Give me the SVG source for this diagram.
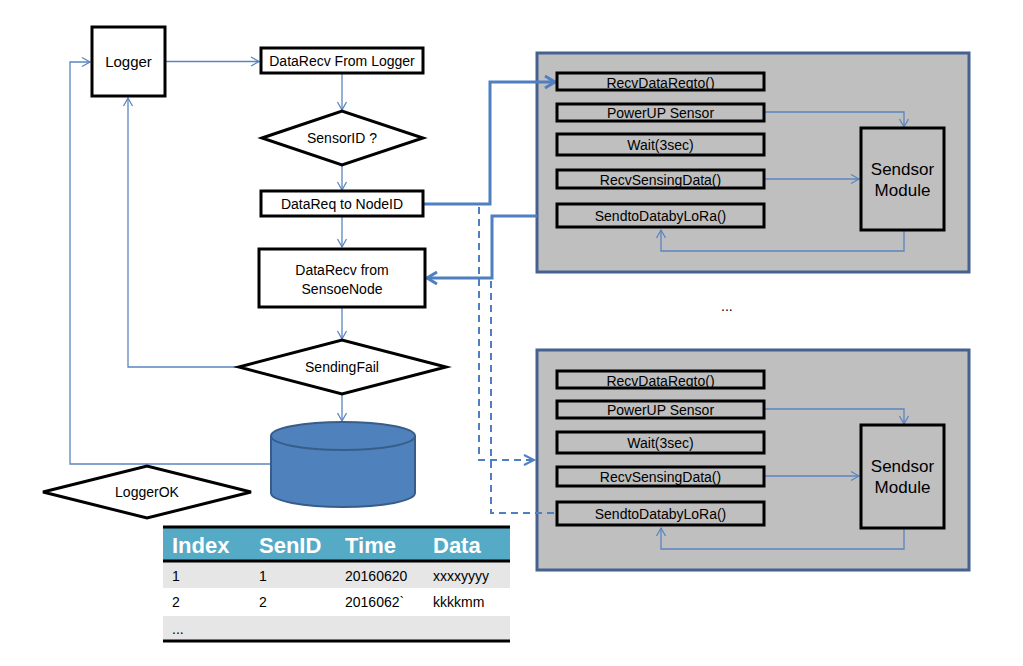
<svg xmlns="http://www.w3.org/2000/svg" width="1023" height="666" viewBox="0 0 1023 666">
<style>
.box{fill:#fff;stroke:#000;stroke-width:3}
.gbox{fill:#bfbfbf;stroke:#000;stroke-width:3}
.panel{fill:#bfbfbf;stroke:#44618f;stroke-width:3}
.t{font-family:"Liberation Sans",Arial,sans-serif;font-size:14px;fill:#000;text-anchor:middle}
.tl{font-family:"Liberation Sans",Arial,sans-serif;font-size:14px;fill:#000}
.th{font-family:"Liberation Sans",Arial,sans-serif;font-size:22px;font-weight:bold;fill:#fff}
.thin{fill:none;stroke:#5b85c0;stroke-width:1.3}
.thick{fill:none;stroke:#4f7fc0;stroke-width:3}
.dash{fill:none;stroke:#4f7fc0;stroke-width:2;stroke-dasharray:7,5}
</style>
<defs>
<marker id="a" markerUnits="userSpaceOnUse" markerWidth="12" markerHeight="12" refX="9" refY="5" orient="auto" viewBox="0 0 12 10">
<path d="M1,0.5 L9,5 L1,9.5" fill="none" stroke="#5b85c0" stroke-width="1.3"/>
</marker>
<marker id="b" markerUnits="userSpaceOnUse" markerWidth="16" markerHeight="16" refX="12" refY="7" orient="auto" viewBox="0 0 16 14">
<path d="M2,1 L12,7 L2,13" fill="none" stroke="#4f7fc0" stroke-width="3"/>
</marker>
<marker id="c" markerUnits="userSpaceOnUse" markerWidth="14" markerHeight="14" refX="11" refY="6" orient="auto" viewBox="0 0 14 12">
<path d="M1,1 L11,6 L1,11" fill="none" stroke="#4f7fc0" stroke-width="2"/>
</marker>
</defs>
<rect width="1023" height="666" fill="#fff"/>

<g id="panel1">
<rect class="panel" x="537" y="53" width="432" height="219"/>
</g>
<g id="panel2">
<rect class="panel" x="537" y="350" width="432" height="220"/>
</g>

<g id="connectors">
<path class="thin" d="M165,61.5 H259" marker-end="url(#a)"/>
<path class="thin" d="M342,73 V110" marker-end="url(#a)"/>
<path class="thin" d="M342,165 V190" marker-end="url(#a)"/>
<path class="thin" d="M342,216 V247" marker-end="url(#a)"/>
<path class="thin" d="M342,307 V339" marker-end="url(#a)"/>
<path class="thin" d="M342,394 V421" marker-end="url(#a)"/>
<path class="thin" d="M239,367 H128 V98" marker-end="url(#a)"/>
<path class="thin" d="M271,464 H70 V62 H90" marker-end="url(#a)"/>
<path class="thick" d="M423,204 H490 V82 H555" marker-end="url(#b)"/>
<path class="thick" d="M537,216 H492 V278 H427" marker-end="url(#b)"/>
<path class="dash" d="M479,207 V460 H534" marker-end="url(#c)"/>
<path class="dash" d="M491,281 V513 H557"/>
<path class="thin" d="M765,112 H904 V127" marker-end="url(#a)"/>
<path class="thin" d="M765,179 H859" marker-end="url(#a)"/>
<path class="thin" d="M904,230 V251 H661 V230" marker-end="url(#a)"/>
<path class="thin" d="M765,409 H904 V424" marker-end="url(#a)"/>
<path class="thin" d="M765,476 H859" marker-end="url(#a)"/>
<path class="thin" d="M904,528 V549 H661 V528" marker-end="url(#a)"/>
</g>

<g id="logger">
<rect class="box" x="92" y="27" width="73" height="69"/>
<text class="t" x="128.5" y="67" style="font-size:15px">Logger</text>
</g>
<g id="datarecv-logger">
<rect class="box" x="261" y="48" width="162" height="25"/>
<text class="t" x="342" y="66">DataRecv From Logger</text>
</g>
<g id="sensorid">
<polygon class="box" points="262,138 342,111 423,138 342,165"/>
<text class="t" x="342" y="143">SensorID ?</text>
</g>
<g id="datareq">
<rect class="box" x="261" y="191" width="162" height="25"/>
<text class="t" x="342" y="209">DataReq to NodeID</text>
</g>
<g id="datarecv-node">
<rect class="box" x="259" y="249" width="166" height="58"/>
<text class="t" x="342" y="275">DataRecv from</text>
<text class="t" x="342" y="293.5">SensoeNode</text>
</g>
<g id="sendingfail">
<polygon class="box" points="239,367 342,340 446,367 342,394"/>
<text class="t" x="342" y="372">SendingFail</text>
</g>
<g id="database">
<path d="M271,436 V493 A72,14 0 0 0 415,493 V436" fill="#4f81bd" stroke="#385d8a" stroke-width="2"/>
<ellipse cx="343" cy="436" rx="72" ry="14" fill="#4f81bd" stroke="#385d8a" stroke-width="2"/>
</g>
<g id="loggerok">
<polygon class="box" points="43,492 147,466 251,492 147,518"/>
<text class="t" x="147" y="497">LoggerOK</text>
</g>

<g id="table">
<rect x="163" y="527" width="347" height="34" fill="#55aac6"/>
<rect x="163" y="561" width="347" height="27" fill="#e6e6e6"/>
<rect x="163" y="588" width="347" height="28" fill="#fff"/>
<rect x="163" y="616" width="347" height="25" fill="#e6e6e6"/>
<line x1="163" y1="527" x2="510" y2="527" stroke="#000" stroke-width="3"/>
<line x1="163" y1="561" x2="510" y2="561" stroke="#000" stroke-width="3"/>
<line x1="163" y1="641" x2="510" y2="641" stroke="#000" stroke-width="3"/>
<text class="th" x="172" y="553">Index</text>
<text class="th" x="259" y="553">SenID</text>
<text class="th" x="345" y="553">Time</text>
<text class="th" x="433" y="553">Data</text>
<text class="tl" x="172" y="581">1</text>
<text class="tl" x="259" y="581">1</text>
<text class="tl" x="345" y="581">20160620</text>
<text class="tl" x="433" y="581">xxxxyyyy</text>
<text class="tl" x="172" y="607">2</text>
<text class="tl" x="259" y="607">2</text>
<text class="tl" x="345" y="607">2016062`</text>
<text class="tl" x="433" y="607">kkkkmm</text>
<text class="tl" x="172" y="634">...</text>
</g>

<g id="p1-recv">
<rect class="gbox" x="557" y="73" width="207" height="17"/>
<text class="t" x="660.5" y="88">RecvDataReqto()</text>
</g>
<g id="p1-power">
<rect class="gbox" x="557" y="104" width="207" height="17"/>
<text class="t" x="660.5" y="118">PowerUP Sensor</text>
</g>
<g id="p1-wait">
<rect class="gbox" x="557" y="134" width="207" height="21"/>
<text class="t" x="660.5" y="150">Wait(3sec)</text>
</g>
<g id="p1-sensing">
<rect class="gbox" x="557" y="170" width="207" height="18"/>
<text class="t" x="660.5" y="184.5">RecvSensingData()</text>
</g>
<g id="p1-send">
<rect class="gbox" x="557" y="204" width="207" height="23"/>
<text class="t" x="660.5" y="220.5">SendtoDatabyLoRa()</text>
</g>
<g id="p1-module">
<rect class="gbox" x="861" y="128" width="83" height="102"/>
<text class="t" x="902.5" y="175" style="font-size:17px">Sendsor</text>
<text class="t" x="902.5" y="196" style="font-size:17px">Module</text>
</g>

<g id="p2-recv">
<rect class="gbox" x="557" y="371" width="207" height="17"/>
<text class="t" x="660.5" y="386">RecvDataReqto()</text>
</g>
<g id="p2-power">
<rect class="gbox" x="557" y="401" width="207" height="17"/>
<text class="t" x="660.5" y="415">PowerUP Sensor</text>
</g>
<g id="p2-wait">
<rect class="gbox" x="557" y="432" width="207" height="21"/>
<text class="t" x="660.5" y="448">Wait(3sec)</text>
</g>
<g id="p2-sensing">
<rect class="gbox" x="557" y="467" width="207" height="19"/>
<text class="t" x="660.5" y="481.5">RecvSensingData()</text>
</g>
<g id="p2-send">
<rect class="gbox" x="557" y="502" width="207" height="23"/>
<text class="t" x="660.5" y="518.5">SendtoDatabyLoRa()</text>
</g>
<g id="p2-module">
<rect class="gbox" x="861" y="425" width="83" height="103"/>
<text class="t" x="902.5" y="472" style="font-size:17px">Sendsor</text>
<text class="t" x="902.5" y="493" style="font-size:17px">Module</text>
</g>

<text class="tl" x="721" y="311">...</text>
</svg>
